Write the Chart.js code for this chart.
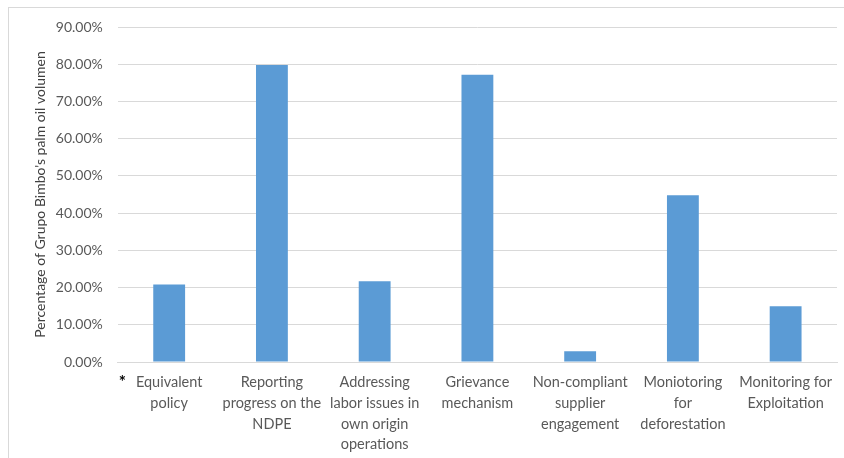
<!DOCTYPE html>
<html>
<head>
<meta charset="utf-8">
<title>Grupo Bimbo palm oil volumen</title>
<script src="https://cdn.jsdelivr.net/npm/chart.js@4.4.1/dist/chart.umd.min.js"></script>
<style>
  html, body { margin: 0; padding: 0; background: #fff; }
  #frame {
    position: absolute; left: 8px; top: 7px; width: 836px; height: 451px;
    border-top: 1px solid #d9d9d9; border-left: 1px solid #d9d9d9;
  }
  #wrap { position: absolute; left: 0; top: 0; width: 844px; height: 458px; }
</style>
</head>
<body>
<div id="frame"></div>
<div id="wrap"><canvas id="myBarChart"></canvas></div>
<script>
// categories (multi-line, as wrapped in the original)
var categories = [
    ['Equivalent', 'policy'],
    ['Reporting', 'progress on the', 'NDPE'],
    ['Addressing', 'labor issues in', 'own origin', 'operations'],
    ['Grievance', 'mechanism'],
    ['Non-compliant', 'supplier', 'engagement'],
    ['Moniotoring', 'for', 'deforestation'],
    ['Monitoring for', 'Exploitation']
];

// share of palm oil volume, in percent
var shares = [20.8, 79.8, 21.7, 77.2, 2.9, 44.8, 15.0];

var yTicks = [0, 10, 20, 30, 40, 50, 60, 70, 80, 90];

var fontFamily = "Lato, 'Open Sans', sans-serif";
var textColor = '#595959';

// the little black asterisk in front of the first category
var asterisk = {
    id: 'asterisk',
    afterDraw: function(chart) {
        var c = chart.ctx;
        var area = chart.chartArea;
        c.save();
        c.fillStyle = '#000';
        c.font = 'bold 17px ' + fontFamily;
        c.textAlign = 'left';
        c.textBaseline = 'middle';
        c.fillText('*', area.left + 1, area.bottom + 20);
        c.restore();
    }
};

var ctx = document.getElementById('myBarChart').getContext('2d');
var myBarChart = new Chart(ctx, {
    type: 'bar',
    data: {
        labels: categories,
        datasets: [{
            data: shares,
            backgroundColor: '#5b9bd5',
            barPercentage: 0.31,
            categoryPercentage: 1
        }]
    },
    options: {
        responsive: true,
        maintainAspectRatio: false,
        animation: false,
        layout: { padding: { left: 32, right: 7, top: 27, bottom: -7 } },
        plugins: {
            legend: { display: false },
            tooltip: { enabled: false }
        },
        scales: {
            x: {
                grid: { display: false, drawTicks: false },
                border: { color: '#d9d9d9' },
                ticks: {
                    color: textColor,
                    font: { family: fontFamily, size: 14.5, lineHeight: 1.43 },
                    maxRotation: 0,
                    autoSkip: false,
                    padding: 10
                }
            },
            y: {
                min: 0,
                max: 90,
                afterBuildTicks: function(axis) {
                    axis.ticks = yTicks.map(function(v) { return { value: v }; });
                },
                grid: { color: '#d9d9d9', drawTicks: false },
                border: { display: false },
                ticks: {
                    color: textColor,
                    font: { family: fontFamily, size: 14 },
                    padding: 15,
                    callback: function(v) { return v.toFixed(2) + '%'; }
                },
                title: {
                    display: true,
                    text: "Percentage of Grupo Bimbo's palm oil volumen",
                    color: '#404040',
                    font: { family: fontFamily, size: 14 },
                    padding: { top: 0, bottom: -8 }
                }
            }
        }
    },
    plugins: [asterisk]
});
</script>
</body>
</html>
